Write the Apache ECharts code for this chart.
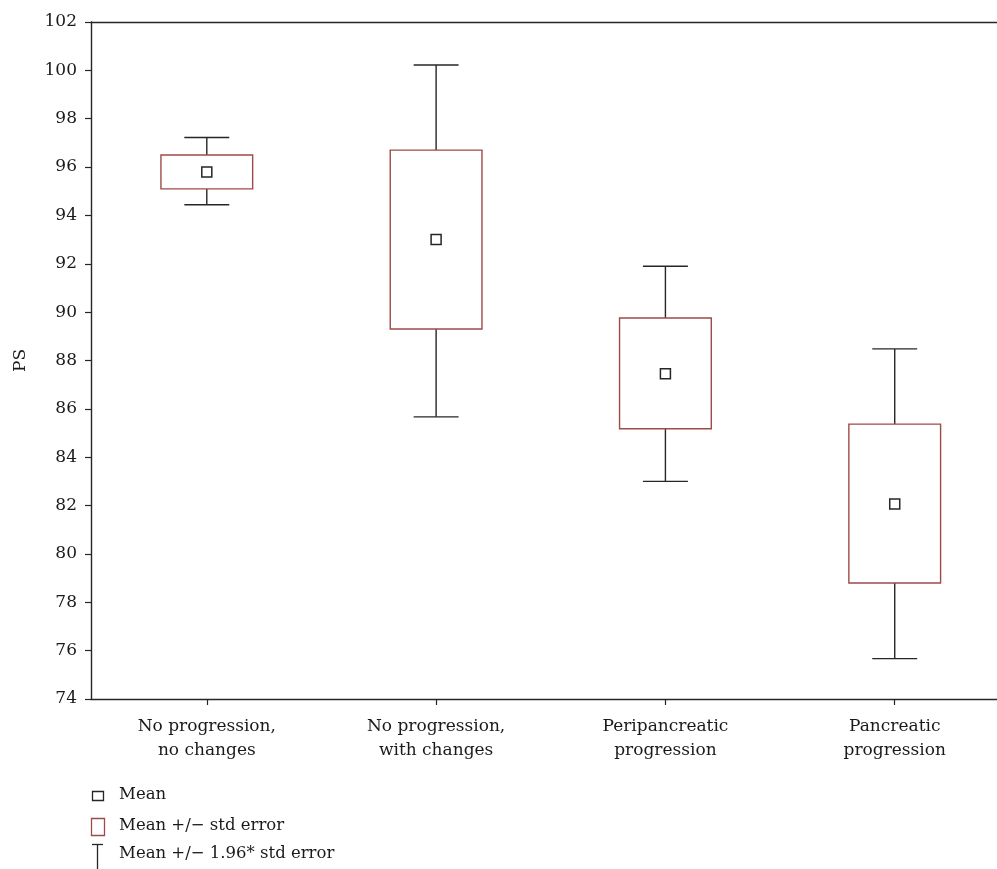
<!DOCTYPE html>
<html>
<head>
<meta charset="utf-8">
<title>PS by progression group</title>
<script src="https://cdn.jsdelivr.net/npm/echarts@6/dist/echarts.min.js"></script>
<style>
  html, body { margin: 0; padding: 0; background: #fff; }
  #chart { width: 997px; height: 869px; }
</style>
</head>
<body>
<div id="chart"></div>
<script>
// Groups, in axis order
const categories = [
  'No progression,\nno changes',
  'No progression,\nwith changes',
  'Peripancreatic\nprogression',
  'Pancreatic\nprogression'
];
// Mean PS per group
const means = [95.8, 93.0, 87.45, 82.07];
// Mean +/- std error
const seLow  = [95.1, 89.3, 85.18, 78.8];
const seHigh = [96.5, 96.7, 89.76, 85.37];
// Mean +/- 1.96 * std error
const ciLow  = [94.44, 85.67, 83.0, 75.67];
const ciHigh = [97.22, 100.22, 91.9, 88.48];
// Y axis ticks
const yMin = 74, yMax = 102, yStep = 2;
// Legend entries
const legendLabels = ['Mean', 'Mean +/\u2212 std error', 'Mean +/\u2212 1.96* std error'];

const FONT = 'DejaVu Serif';
const FONT_SIZE = 17;
const LEGEND_FONT_SIZE = 16.5;
const INK = '#262626';
const TEXT = '#1a1a1a';
const BOX = '#a04a48';

const positions = categories.map((_, i) => i + 1);
const intervalData = positions.map((p, i) => [p, ciLow[i], seLow[i], seHigh[i], ciHigh[i]]);
const meanData = positions.map((p, i) => [p, means[i]]);

function renderInterval(params, api) {
  const x = api.value(0);
  const band = api.size([1, 0])[0];
  const boxW = band * 0.4;
  const capW = band * 0.196;
  const pCiLo = api.coord([x, api.value(1)]);
  const pSeLo = api.coord([x, api.value(2)]);
  const pSeHi = api.coord([x, api.value(3)]);
  const pCiHi = api.coord([x, api.value(4)]);
  const cx = pCiLo[0];
  const lineStyle = { stroke: INK, lineWidth: 1.4 };
  return {
    type: 'group',
    children: [
      { type: 'line', shape: { x1: cx, y1: pCiHi[1], x2: cx, y2: pSeHi[1] }, style: lineStyle },
      { type: 'line', shape: { x1: cx, y1: pSeLo[1], x2: cx, y2: pCiLo[1] }, style: lineStyle },
      { type: 'line', shape: { x1: cx - capW / 2, y1: pCiHi[1], x2: cx + capW / 2, y2: pCiHi[1] }, style: lineStyle },
      { type: 'line', shape: { x1: cx - capW / 2, y1: pCiLo[1], x2: cx + capW / 2, y2: pCiLo[1] }, style: lineStyle },
      {
        type: 'rect',
        shape: { x: cx - boxW / 2, y: pSeHi[1], width: boxW, height: pSeLo[1] - pSeHi[1] },
        style: { fill: '#fff', stroke: BOX, lineWidth: 1.4 }
      }
    ]
  };
}

const chart = echarts.init(document.getElementById('chart'), null, { renderer: 'canvas' });

function legendText(text, y) {
  return {
    type: 'text',
    style: { text: text, x: 119, y: y, verticalAlign: 'middle', align: 'left',
             fontFamily: FONT, fontSize: LEGEND_FONT_SIZE, fill: TEXT }
  };
}

chart.setOption({
  animation: false,
  backgroundColor: '#fff',
  textStyle: { fontFamily: FONT },
  grid: { left: 91, right: 0, top: 22, bottom: 170, containLabel: false },
  xAxis: [
    {
      type: 'value',
      min: 0.495,
      max: 4.446,
      axisLine: { show: true, onZero: false, lineStyle: { color: INK, width: 1.4 } },
      axisTick: { show: true, customValues: positions, length: 6, lineStyle: { color: INK, width: 1.2 } },
      axisLabel: {
        customValues: positions,
        formatter: v => categories[Math.round(v) - 1],
        fontFamily: FONT, fontSize: FONT_SIZE, color: TEXT, lineHeight: 24, margin: 16
      },
      splitLine: { show: false }
    },
    {
      type: 'value',
      position: 'top',
      min: 0.495,
      max: 4.446,
      axisLine: { show: true, onZero: false, lineStyle: { color: INK, width: 1.4 } },
      axisTick: { show: false },
      axisLabel: { show: false },
      splitLine: { show: false }
    }
  ],
  yAxis: {
    type: 'value',
    min: yMin,
    max: yMax,
    interval: yStep,
    name: 'PS',
    nameLocation: 'middle',
    nameGap: 62,
    nameRotate: 90,
    nameTextStyle: { fontFamily: FONT, fontSize: FONT_SIZE, color: TEXT },
    axisLine: { show: true, onZero: false, lineStyle: { color: INK, width: 1.4 } },
    axisTick: { show: true, length: 6, lineStyle: { color: INK, width: 1.2 } },
    axisLabel: { fontFamily: FONT, fontSize: FONT_SIZE, color: TEXT, margin: 14 },
    splitLine: { show: false }
  },
  series: [
    {
      type: 'custom',
      name: 'Mean +/- 1.96* std error',
      renderItem: renderInterval,
      data: intervalData,
      encode: { x: 0, y: [1, 2, 3, 4] },
      z: 2
    },
    {
      type: 'scatter',
      name: 'Mean',
      data: meanData,
      symbol: 'rect',
      symbolSize: 10,
      itemStyle: { color: '#fff', borderColor: INK, borderWidth: 1.5, opacity: 1 },
      z: 3
    }
  ],
  graphic: [
    // Mean marker
    { type: 'rect', shape: { x: 92.5, y: 791.5, width: 11, height: 9 }, style: { fill: '#fff', stroke: INK, lineWidth: 1.3 } },
    legendText(legendLabels[0], 795),
    // Std error box
    { type: 'rect', shape: { x: 91.5, y: 818.5, width: 13, height: 17 }, style: { fill: '#fff', stroke: BOX, lineWidth: 1.3 } },
    legendText(legendLabels[1], 826),
    // 1.96 * std error whisker
    { type: 'line', shape: { x1: 92, y1: 844.5, x2: 103, y2: 844.5 }, style: { stroke: INK, lineWidth: 1.3 } },
    { type: 'line', shape: { x1: 97.5, y1: 844.5, x2: 97.5, y2: 869 }, style: { stroke: INK, lineWidth: 1.3 } },
    legendText(legendLabels[2], 854)
  ]
});
</script>
</body>
</html>
